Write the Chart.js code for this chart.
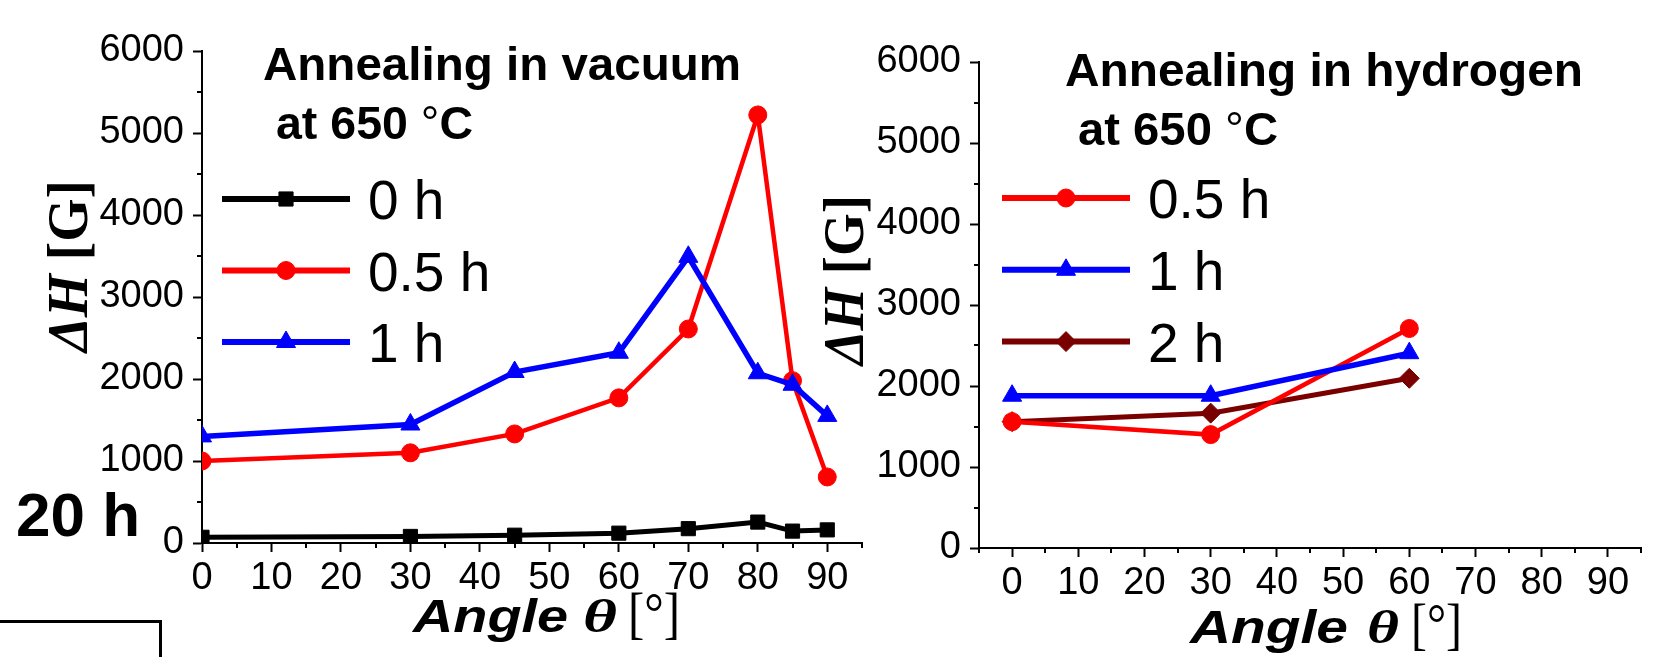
<!DOCTYPE html>
<html>
<head>
<meta charset="utf-8">
<script src="https://cdn.jsdelivr.net/npm/chart.js@4.4.1/dist/chart.umd.min.js"></script>
<style>
  html, body { margin: 0; padding: 0; background: #fff; }
  body { width: 1667px; height: 657px; position: relative; overflow: hidden; }
  canvas { position: absolute; top: 0; }
  #vac { left: 0; }
  #hyd { left: 800px; }
  .box { position: absolute; left: -5px; top: 620px; width: 167px; height: 60px; box-sizing: border-box; border-top: 3px solid #000; border-right: 3px solid #000; }
</style>
</head>
<body>
<canvas id="vac" width="880" height="657"></canvas>
<canvas id="hyd" width="867" height="657"></canvas>
<div class="box"></div>
<script>
// vacuum anneal
const vacAngles = [0, 30, 45, 60, 70, 80, 85, 90];
const vac0h  = [70, 80, 95, 120, 175, 255, 145, 160];
const vac05h = [1000, 1100, 1330, 1770, 2610, 5220, 1980, 805];
const vac1h  = [1300, 1445, 2085, 2320, 3490, 2070, 1930, 1550];

// hydrogen anneal
const hydAngles = [0, 30, 60];
const hyd05h = [1560, 1400, 2710];
const hyd1h  = [1880, 1880, 2405];
const hyd2h  = [1560, 1665, 2095];

const xTicks = [0, 10, 20, 30, 40, 50, 60, 70, 80, 90];
const yTicks = [0, 1000, 2000, 3000, 4000, 5000, 6000];

const SANS = "'Liberation Sans', Arial, sans-serif";
const SERIF = "'Liberation Serif', 'Times New Roman', serif";

function series(label, xs, ys, color, style, r, lw, order) {
    return {
        label: label,
        data: xs.map((x, i) => ({ x: x, y: ys[i] })),
        borderColor: color,
        backgroundColor: color,
        pointBackgroundColor: color,
        pointBorderColor: color,
        pointStyle: style,
        pointRadius: r,
        pointBorderWidth: 1,
        borderWidth: lw,
        tension: 0,
        fill: false,
        order: order
    };
}

// small ticks between the labelled ones
const minorTicks = {
    id: 'minorTicks',
    afterDraw(chart) {
        const ctx = chart.ctx;
        const xs = chart.scales.x, ys = chart.scales.y;
        const a = chart.chartArea;
        ctx.save();
        ctx.strokeStyle = '#000';
        ctx.lineWidth = 2;
        ctx.beginPath();
        for (let v = xs.min; v <= xs.max; v += 5) {
            if (v % 10 === 0) continue;
            const px = Math.round(xs.getPixelForValue(v));
            ctx.moveTo(px, a.bottom);
            ctx.lineTo(px, a.bottom + 5);
        }
        for (let v = ys.min; v <= ys.max; v += 500) {
            if (v % 1000 === 0) continue;
            const py = Math.round(ys.getPixelForValue(v));
            ctx.moveTo(a.left, py);
            ctx.lineTo(a.left - 5, py);
        }
        ctx.stroke();
        ctx.restore();
    }
};

// legend: line sample with the marker in the middle
function lineLegend(cfg) {
    return {
        id: 'lineLegend',
        afterDraw(chart) {
            const ctx = chart.ctx;
            ctx.save();
            chart.data.datasets.forEach((ds, i) => {
                const y = cfg.y + i * cfg.gap;
                const x0 = cfg.x - cfg.offset;
                ctx.strokeStyle = ds.borderColor;
                ctx.lineWidth = 6;
                ctx.beginPath();
                ctx.moveTo(x0, y);
                ctx.lineTo(x0 + cfg.len, y);
                ctx.stroke();
                ctx.fillStyle = ds.pointBackgroundColor;
                ctx.strokeStyle = ds.pointBorderColor;
                ctx.lineWidth = 1;
                Chart.helpers.drawPoint(ctx, { pointStyle: ds.pointStyle, radius: ds.pointRadius, rotation: 0, borderWidth: 1 }, x0 + cfg.len / 2, y);
                ctx.fillStyle = '#000';
                ctx.font = '55px ' + SANS;
                ctx.textBaseline = 'alphabetic';
                ctx.fillText(ds.label, x0 + cfg.len + 18, y + 20);
            });
            ctx.restore();
        }
    };
}

// titles and notes, mixed fonts
function textLayer(items, offset) {
    return {
        id: 'textLayer',
        afterDraw(chart) {
            const ctx = chart.ctx;
            items.forEach(it => {
                ctx.save();
                ctx.textBaseline = 'alphabetic';
                ctx.fillStyle = '#000';
                let total = 0;
                const widths = it.runs.map(r => {
                    ctx.font = r[1];
                    const w = ctx.measureText(r[0]).width;
                    total += w;
                    return w;
                });
                const sx = it.w ? it.w / total : 1;
                ctx.translate(it.x - offset, it.y);
                if (it.rot) ctx.rotate(it.rot);
                ctx.scale(sx, 1);
                let x = it.center ? -total / 2 : 0;
                it.runs.forEach((r, i) => {
                    ctx.font = r[1];
                    ctx.fillText(r[0], x, 0);
                    x += widths[i];
                });
                ctx.restore();
            });
        }
    };
}

function axes(xmin, xmax, yWidth, xHeight) {
    const tickFont = { family: SANS, size: 38 };
    const grid = { drawOnChartArea: false, drawTicks: true, tickLength: 9, tickWidth: 2, tickColor: '#000' };
    const border = { display: true, color: '#000', width: 2 };
    return {
        x: {
            type: 'linear', min: xmin, max: xmax,
            afterBuildTicks: s => { s.ticks = xTicks.map(v => ({ value: v })); },
            afterFit: s => { s.height = xHeight; },
            grid: grid, border: border,
            ticks: { font: tickFont, color: '#000', padding: 4, maxRotation: 0, autoSkip: false, callback: v => String(v) }
        },
        y: {
            min: 0, max: 6000,
            afterBuildTicks: s => { s.ticks = yTicks.map(v => ({ value: v })); },
            afterFit: s => { s.width = yWidth; },
            grid: grid, border: border,
            ticks: { font: tickFont, color: '#000', padding: 9, autoSkip: false, callback: v => String(v) }
        }
    };
}

const B47 = 'bold 47px ' + SANS;
const R47 = '47px ' + SANS;
const ANG = 'bold italic 46px ' + SANS;
const THETA = 'bold italic 46px ' + SERIF;
const BRK = '58px ' + SERIF;

new Chart(document.getElementById('vac'), {
    type: 'line',
    data: {
        datasets: [
            series('0 h', vacAngles, vac0h, '#000000', 'rect', 10, 5, 3),
            series('0.5 h', vacAngles, vac05h, '#ff0000', 'circle', 9, 4.5, 2),
            series('1 h', vacAngles, vac1h, '#0000ff', 'triangle', 11, 5.5, 1)
        ]
    },
    options: {
        responsive: false,
        animation: false,
        layout: { padding: { left: 0, top: 51, right: 18, bottom: 0 } },
        plugins: { legend: { display: false }, tooltip: { enabled: false } },
        scales: axes(0, 95, 202, 114)
    },
    plugins: [
        minorTicks,
        lineLegend({ x: 222, y: 199, gap: 71.5, len: 128, offset: 0 }),
        textLayer([
            { x: 263, y: 80, w: 478, runs: [['Annealing in vacuum', B47]] },
            { x: 276, y: 139, w: 197, runs: [['at 650 ', B47], ['°', R47], ['C', B47]] },
            { x: 16, y: 536, w: 124, runs: [['20 h', 'bold 61px ' + SANS]] },
            { x: 413, y: 632, w: 155, runs: [['Angle', ANG]] },
            { x: 583, y: 632, w: 34, runs: [['θ', THETA]] },
            { x: 628, y: 632, w: 52, runs: [['[°]', BRK]] },
            { x: 87, y: 266, w: 172, rot: -Math.PI / 2, center: true, runs: [['ΔH', 'bold italic 56px ' + SERIF], [' [G]', 'bold 56px ' + SERIF]] }
        ], 0)
    ]
});

new Chart(document.getElementById('hyd'), {
    type: 'line',
    data: {
        datasets: [
            series('0.5 h', hydAngles, hyd05h, '#ff0000', 'circle', 9, 4.5, 2),
            series('1 h', hydAngles, hyd1h, '#0000ff', 'triangle', 11, 5.5, 1),
            series('2 h', hydAngles, hyd2h, '#7a0000', 'rectRot', 10, 5, 3)
        ]
    },
    options: {
        responsive: false,
        animation: false,
        layout: { padding: { left: 0, top: 62, right: 26, bottom: 0 } },
        plugins: { legend: { display: false }, tooltip: { enabled: false } },
        scales: axes(-5, 95, 179, 109)
    },
    plugins: [
        minorTicks,
        lineLegend({ x: 1002, y: 198, gap: 71.8, len: 128, offset: 800 }),
        textLayer([
            { x: 1065, y: 86, w: 518, runs: [['Annealing in hydrogen', B47]] },
            { x: 1078, y: 144.5, w: 200, runs: [['at 650 ', B47], ['°', R47], ['C', B47]] },
            { x: 1190, y: 643, w: 158, runs: [['Angle', ANG]] },
            { x: 1367, y: 643, w: 32, runs: [['θ', THETA]] },
            { x: 1411, y: 643, w: 51, runs: [['[°]', BRK]] },
            { x: 863, y: 280, w: 170, rot: -Math.PI / 2, center: true, runs: [['ΔH', 'bold italic 56px ' + SERIF], [' [G]', 'bold 56px ' + SERIF]] }
        ], 800)
    ]
});
</script>
</body>
</html>
